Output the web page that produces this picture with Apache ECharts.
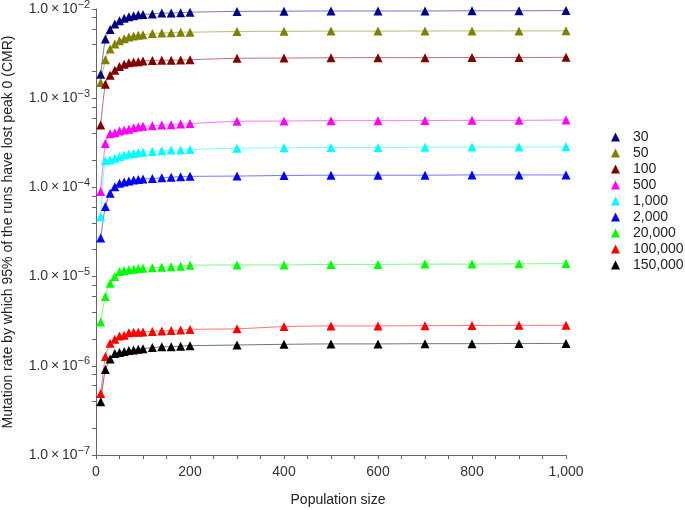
<!DOCTYPE html>
<html>
<head>
<meta charset="utf-8">
<script src="https://cdn.jsdelivr.net/npm/echarts@6/dist/echarts.min.js"></script>
<style>
  html, body { margin: 0; padding: 0; background: #fff; }
  #chart { width: 685px; height: 510px; }
</style>
</head>
<body>
<div id="chart"></div>
<script>
const popSizes = [10, 20, 30, 40, 50, 60, 70, 80, 90, 100, 120, 140, 160, 180, 200, 300, 400, 500, 600, 700, 800, 900, 1000];

const names = ['30', '50', '100', '500', '1,000', '2,000', '20,000', '100,000', '150,000'];
const colors = ['#000080', '#808000', '#800000', '#ff00ff', '#00ffff', '#0000ff', '#00ff00', '#ff0000', '#000000'];

const cmr30 = [1.85e-3, 4.6e-3, 5.9e-3, 6.8e-3, 7.4e-3, 7.9e-3, 8.2e-3, 8.4e-3, 8.6e-3, 8.7e-3, 8.8e-3, 9.0e-3, 9.0e-3, 9.1e-3, 9.2e-3, 9.4e-3, 9.45e-3, 9.5e-3, 9.5e-3, 9.5e-3, 9.55e-3, 9.55e-3, 9.6e-3];
const cmr50 = [1.5e-3, 2.7e-3, 3.55e-3, 4.05e-3, 4.4e-3, 4.65e-3, 4.85e-3, 4.98e-3, 5.07e-3, 5.15e-3, 5.3e-3, 5.38e-3, 5.4e-3, 5.5e-3, 5.5e-3, 5.6e-3, 5.62e-3, 5.65e-3, 5.65e-3, 5.67e-3, 5.68e-3, 5.68e-3, 5.7e-3];
const cmr100 = [5.0e-4, 1.43e-3, 1.81e-3, 2.06e-3, 2.26e-3, 2.4e-3, 2.5e-3, 2.55e-3, 2.57e-3, 2.62e-3, 2.64e-3, 2.67e-3, 2.66e-3, 2.68e-3, 2.7e-3, 2.8e-3, 2.82e-3, 2.84e-3, 2.85e-3, 2.85e-3, 2.86e-3, 2.86e-3, 2.87e-3];
const cmr500 = [9.0e-5, 3.1e-4, 4.0e-4, 4.1e-4, 4.28e-4, 4.4e-4, 4.5e-4, 4.65e-4, 4.77e-4, 4.84e-4, 4.9e-4, 5.0e-4, 5.05e-4, 5.15e-4, 5.2e-4, 5.5e-4, 5.55e-4, 5.6e-4, 5.6e-4, 5.62e-4, 5.65e-4, 5.65e-4, 5.7e-4];
const cmr1000 = [4.7e-5, 2.0e-4, 2.03e-4, 2.12e-4, 2.21e-4, 2.31e-4, 2.37e-4, 2.4e-4, 2.44e-4, 2.47e-4, 2.53e-4, 2.57e-4, 2.62e-4, 2.62e-4, 2.66e-4, 2.75e-4, 2.78e-4, 2.8e-4, 2.8e-4, 2.82e-4, 2.83e-4, 2.84e-4, 2.85e-4];
const cmr2000 = [2.7e-5, 6.1e-5, 8.6e-5, 1.02e-4, 1.11e-4, 1.15e-4, 1.18e-4, 1.21e-4, 1.23e-4, 1.24e-4, 1.26e-4, 1.28e-4, 1.3e-4, 1.32e-4, 1.33e-4, 1.34e-4, 1.36e-4, 1.37e-4, 1.37e-4, 1.37e-4, 1.38e-4, 1.38e-4, 1.38e-4];
const cmr20000 = [3.1e-6, 6.0e-6, 8.4e-6, 1.0e-5, 1.14e-5, 1.17e-5, 1.19e-5, 1.21e-5, 1.23e-5, 1.24e-5, 1.26e-5, 1.27e-5, 1.29e-5, 1.31e-5, 1.34e-5, 1.35e-5, 1.35e-5, 1.37e-5, 1.37e-5, 1.38e-5, 1.38e-5, 1.39e-5, 1.4e-5];
const cmr100000 = [4.9e-7, 1.27e-6, 1.79e-6, 1.98e-6, 2.16e-6, 2.2e-6, 2.35e-6, 2.37e-6, 2.38e-6, 2.4e-6, 2.42e-6, 2.46e-6, 2.48e-6, 2.52e-6, 2.56e-6, 2.6e-6, 2.75e-6, 2.8e-6, 2.8e-6, 2.82e-6, 2.83e-6, 2.84e-6, 2.85e-6];
const cmr150000 = [3.95e-7, 9.1e-7, 1.19e-6, 1.37e-6, 1.41e-6, 1.45e-6, 1.48e-6, 1.5e-6, 1.53e-6, 1.55e-6, 1.6e-6, 1.63e-6, 1.64e-6, 1.66e-6, 1.68e-6, 1.71e-6, 1.74e-6, 1.76e-6, 1.76e-6, 1.77e-6, 1.77e-6, 1.78e-6, 1.78e-6];

const seriesValues = [cmr30, cmr50, cmr100, cmr500, cmr1000, cmr2000, cmr20000, cmr100000, cmr150000];

// y-axis decades (labelled) and the in-between tick marks
const yDecades = [1e-7, 1e-6, 1e-5, 1e-4, 1e-3, 1e-2];
const yTicks = [];
yDecades.forEach((d, i) => {
  yTicks.push(d);
  if (i < yDecades.length - 1) [2, 4, 6, 8].forEach((m) => yTicks.push(+(m * d).toPrecision(3)));
});

const font = 'Liberation Sans, Arial, sans-serif';

const chart = echarts.init(document.getElementById('chart'));

const option = {
  backgroundColor: '#fff',
  animation: false,
  grid: { left: 96, right: 119, top: 9, bottom: 55, containLabel: false, outerBoundsMode: 'none' },
  legend: {
    orient: 'vertical',
    left: 606,
    top: 125,
    icon: 'triangle',
    itemWidth: 9,
    itemHeight: 9,
    itemGap: 2,
    textStyle: { fontFamily: font, fontSize: 14, color: '#222', padding: [0, 0, 0, 8] },
    data: names,
  },
  xAxis: {
    type: 'value',
    min: 0,
    max: 1000,
    interval: 200,
    name: 'Population size',
    nameLocation: 'middle',
    nameGap: 38,
    nameTextStyle: { fontFamily: font, fontSize: 14, color: '#222', padding: [0, 0, 0, 14] },
    axisLine: { lineStyle: { color: '#666' } },
    axisTick: { length: 4, lineStyle: { color: '#666' } },
    minorTick: { show: true, splitNumber: 4, length: 4, lineStyle: { color: '#666' } },
    axisLabel: {
      margin: 10,
      fontFamily: font,
      fontSize: 14,
      color: '#333',
      formatter: (v) => v.toLocaleString('en-US'),
    },
    splitLine: { show: false },
  },
  yAxis: {
    type: 'log',
    logBase: 10,
    min: 1e-7,
    max: 1e-2,
    name: 'Mutation rate by which 95% of the runs have lost peak 0 (CMR)',
    nameLocation: 'middle',
    nameGap: 81,
    nameTextStyle: { fontFamily: font, fontSize: 14, color: '#222' },
    axisLine: { show: true, lineStyle: { color: '#666' } },
    axisTick: { show: true, length: 4, customValues: yTicks, lineStyle: { color: '#666' } },
    axisLabel: {
      margin: 6,
      customValues: yDecades,
      fontFamily: font,
      fontSize: 14,
      color: '#333',
      formatter: (v) => {
        const e = Math.round(Math.log10(v));
        return '1.0\u2009×\u200910{sup|−' + (-e) + '}';
      },
      rich: {
        sup: { fontFamily: font, fontSize: 11, color: '#333', padding: [0, 0, 9, 0] },
      },
    },
    splitLine: { show: false },
    minorSplitLine: { show: false },
  },
  series: names.map((name, i) => ({
    name: name,
    type: 'line',
    smooth: 0.25,
    symbol: 'triangle',
    symbolSize: 9,
    color: colors[i],
    itemStyle: { color: colors[i] },
    lineStyle: { color: colors[i], width: 1, opacity: 0.55 },
    data: popSizes.map((x, j) => [x, seriesValues[i][j]]),
  })),
};

chart.setOption(option);
</script>
</body>
</html>
